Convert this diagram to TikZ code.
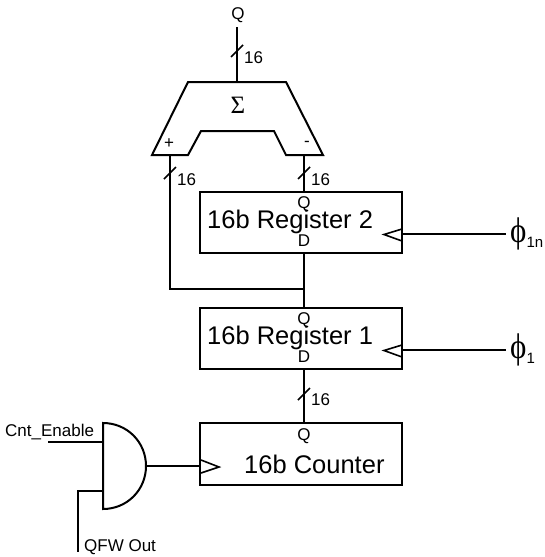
\documentclass[tikz,border=0pt]{standalone}
\usepackage{fontspec}
\usepackage{graphicx}
\setmainfont{Liberation Sans}
\newfontfamily\symfont{Liberation Serif}
\usetikzlibrary{calc}
\tikzset{
  wire/.style={line width=2pt,line cap=butt,line join=miter,draw=black},
  thinwire/.style={line width=1.6pt,line join=miter,draw=black},
  regbox/.style={draw=black,line width=2pt,minimum width=202pt,inner sep=0pt,anchor=north west,outer sep=0pt},
  small/.style={font=\fontsize{17}{17}\selectfont,inner sep=0pt},
  big/.style={font=\fontsize{25.5}{26}\selectfont,inner sep=0pt},
  widthlabel/.style={small,anchor=west},
  phi/.style={inner sep=0pt,anchor=west}
}
\newcommand{\busmark}[1]{\draw[thinwire] ($(#1)+(-6,6)$) -- ($(#1)+(6,-6)$);}
\newcommand{\phisym}{\scalebox{1}[1.15]{\symfont\fontsize{31}{31}\selectfont ϕ}}
\begin{document}
\begin{tikzpicture}[x=1pt,y=-1pt]
\useasboundingbox (0,0) rectangle (544,557);
% adder
\draw[wire] (188,82) coordinate (addtop) -- (286,82) -- (323,155) -- (286,155) -- (274,131) -- (201,131) -- (188,155) -- (152,155) -- cycle;
\coordinate (addout) at (237,82);
\coordinate (addp) at (170,155);
\coordinate (addm) at (304,155);
\node[font=\symfont\fontsize{25}{25}\selectfont,inner sep=0pt] (sigma) at (238,105) {Σ};
\node[small] (plus) at (169,144) {+};
\node[small] (minus) at (307,144) {-};
\node[small] (qtop) at (238,15) {Q};
\coordinate (qend) at (237,27);
\draw[wire] (qend) -- (addout);
\coordinate (b1) at (237,51); \busmark{b1}
\node[widthlabel] (w1) at (244,58) {16};
% boxes
\node[regbox,minimum height=61pt] (r2) at (200,192) {};
\node[regbox,minimum height=61pt] (r1) at (200,308) {};
\node[regbox,minimum height=62pt] (cnt) at (200,423) {};
\node[big,anchor=west] (r2t) at (207,222) {16b Register 2};
\node[big,anchor=west] (r1t) at (207,338) {16b Register 1};
\node[big,anchor=west] (ct) at (244,464) {16b Counter};
\node[small] (r2q) at (304,204) {Q};
\node[small] (r2d) at (304,241) {D};
\node[small] (r1q) at (304,320) {Q};
\node[small] (r1d) at (304,357) {D};
\node[small] (cq) at (304,436) {Q};
% adder inputs
\coordinate (r2top) at (304,192);
\coordinate (r2bot) at (304,253);
\coordinate (r1top) at (304,308);
\coordinate (r1bot) at (304,369);
\coordinate (ctop) at (304,423);
\coordinate (jn) at (304,289);
\draw[wire] (addm) -- (r2top);
\draw[wire] (addp) |- (jn);
\draw[wire] (r2bot) -- (r1top);
\draw[wire] (r1bot) -- (ctop);
\coordinate (b2) at (170,173); \busmark{b2}
\coordinate (b3) at (304,173); \busmark{b3}
\coordinate (b4) at (304,394); \busmark{b4}
\node[widthlabel] (w2) at (177,180) {16};
\node[widthlabel] (w3) at (311,180) {16};
\node[widthlabel] (w4) at (311,400) {16};
% clocks
\draw[thinwire] (402,229) -- (384,234.5) -- (402,241);
\draw[thinwire] (402,345) -- (384,350.5) -- (402,357);
\coordinate (ck2) at (402,234);
\coordinate (ck1) at (402,350);
\coordinate (ck2e) at (506,234);
\coordinate (ck1e) at (506,350);
\draw[thinwire] (ck2) -- (ck2e);
\draw[thinwire] (ck1) -- (ck1e);
\node[phi] (p2) at (510,234) {\phisym\raisebox{-5pt}{\fontsize{15}{15}\selectfont 1n}};
\node[phi] (p1) at (510,350) {\phisym\raisebox{-5pt}{\fontsize{15}{15}\selectfont 1}};
% and gate
\draw[wire] (103,423) .. controls (127,423) and (146,442) .. (146,466) .. controls (146,490) and (127,509) .. (103,509) -- cycle;
\coordinate (gout) at (146,466);
\coordinate (ckc) at (200,466);
\draw[wire] (gout) -- (ckc);
\draw[thinwire] (201,460) -- (219,467) -- (201,473);
\coordinate (ga) at (103,442);
\coordinate (gb) at (103,491);
\coordinate (gae) at (48,442);
\coordinate (gbe) at (78,552);
\draw[wire] (gae) -- (ga);
\draw[wire] (gb) -| (gbe);
\node[small,anchor=west] (cen) at (5,432) {Cnt\_Enable};
\node[small,anchor=west] (qfw) at (84,547) {QFW Out};
\end{tikzpicture}
\end{document}
